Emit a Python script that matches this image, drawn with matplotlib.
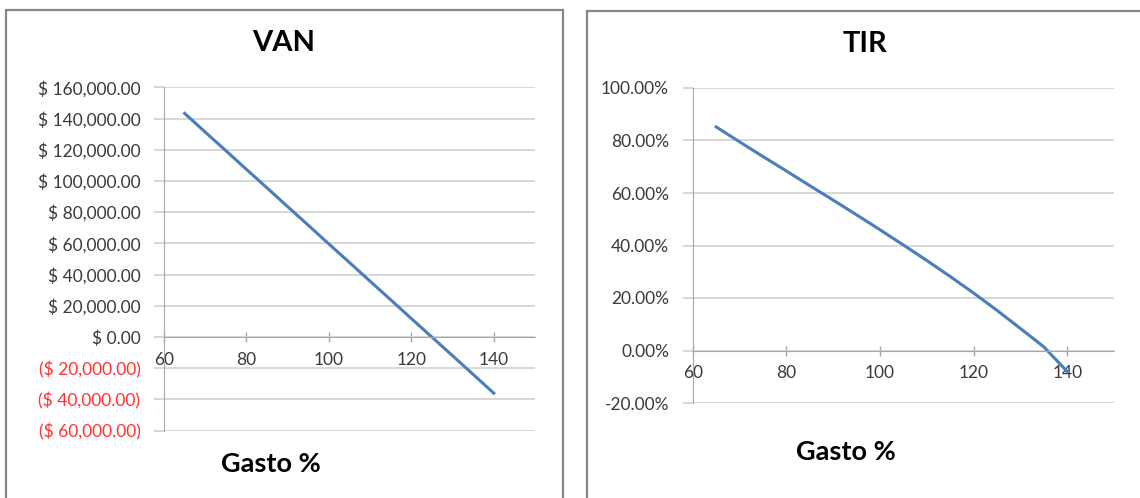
import matplotlib
matplotlib.use("Agg")
import matplotlib.pyplot as plt
from matplotlib.patches import Rectangle

plt.rcParams['font.family'] = ['Lato', 'DejaVu Sans']

# gasto (%) sampled every 5 points
gasto = [65, 70, 75, 80, 85, 90, 95, 100, 105, 110, 115, 120, 125, 130, 135, 140]

# VAN in dollars
van = [143300, 131300, 119400, 107400, 95500, 83500, 71600, 59600,
       47700, 35700, 23800, 11800, -100, -12000, -24000, -36000]

# TIR in percent
tir = [85.2, 79.5, 73.9, 68.4, 62.8, 57.3, 51.7, 46.0,
       40.2, 34.3, 28.2, 21.9, 15.3, 8.4, 1.4, -8.0]

van_ticks = [160000, 140000, 120000, 100000, 80000, 60000, 40000, 20000,
             0, -20000, -40000, -60000]
tir_ticks = [100, 80, 60, 40, 20, 0, -20]
x_ticks = [60, 80, 100, 120, 140]

LINE = '#4a7ebb'
GRID = '#d4d4d4'
AXIS = '#a8a8a8'
TXT = '#3a3a3a'
NEG = '#ff3333'


def money(v):
    if v < 0:
        return '($ {:,.2f})'.format(-v)
    return '$ {:,.2f}'.format(v)


def style_axes(ax, ymin, ymax):
    ax.set_xlim(60, 150)
    ax.set_ylim(ymin, ymax)
    for side in ['top', 'right']:
        ax.spines[side].set_visible(False)
    ax.spines['left'].set_color(AXIS)
    ax.spines['bottom'].set_color(AXIS)
    ax.spines['bottom'].set_position(('data', 0))
    ax.grid(axis='y', color=GRID, linewidth=1.3)
    ax.set_axisbelow(True)
    ax.tick_params(axis='y', direction='out', length=7, color=GRID,
                   width=1.3, pad=10, labelsize=12.5, labelcolor=TXT)
    ax.tick_params(axis='x', direction='inout', length=7, color=AXIS,
                   width=1, pad=7, labelsize=12.5, labelcolor=TXT)
    ax.set_xticks(x_ticks)


fig = plt.figure(figsize=(11.4, 4.98), dpi=100)

# panel frames
fig.patches.append(Rectangle((6 / 1140, -0.05), 557 / 1140, 1.05 - 10 / 498,
                             transform=fig.transFigure, fill=False,
                             edgecolor='#868686', linewidth=1.6))
fig.patches.append(Rectangle((587 / 1140, -0.05), 560 / 1140, 1.05 - 11.5 / 498,
                             transform=fig.transFigure, fill=False,
                             edgecolor='#868686', linewidth=1.6))

# VAN
ax1 = fig.add_axes([164 / 1140, (498 - 430.6) / 498, 371 / 1140, 343.3 / 498])
style_axes(ax1, -60000, 160000)
ax1.plot(gasto, van, color=LINE, linewidth=2.2)
ax1.set_yticks(van_ticks, [money(v) for v in van_ticks])
for v, lbl in zip(van_ticks, ax1.get_yticklabels()):
    if v < 0:
        lbl.set_color(NEG)

# TIR
ax2 = fig.add_axes([692.7 / 1140, (498 - 403) / 498, 421.3 / 1140, 315 / 498])
style_axes(ax2, -20, 100)
ax2.plot(gasto, tir, color=LINE, linewidth=2.2)
ax2.set_yticks(tir_ticks, ['{:.2f}%'.format(v) for v in tir_ticks])

fig.text(283.5 / 1140, 1 - 43 / 498, 'VAN', ha='center', va='center',
         fontsize=21, fontweight='bold', color='black')
fig.text(865 / 1140, 1 - 44 / 498, 'TIR', ha='center', va='center',
         fontsize=21, fontweight='bold', color='black')
fig.text(271 / 1140, 1 - 464 / 498, 'Gasto %', ha='center', va='center',
         fontsize=19.5, fontweight='bold', color='black')
fig.text(845.5 / 1140, 1 - 451.5 / 498, 'Gasto %', ha='center', va='center',
         fontsize=19.5, fontweight='bold', color='black')

fig.savefig('out.png', dpi=100, facecolor='white')
